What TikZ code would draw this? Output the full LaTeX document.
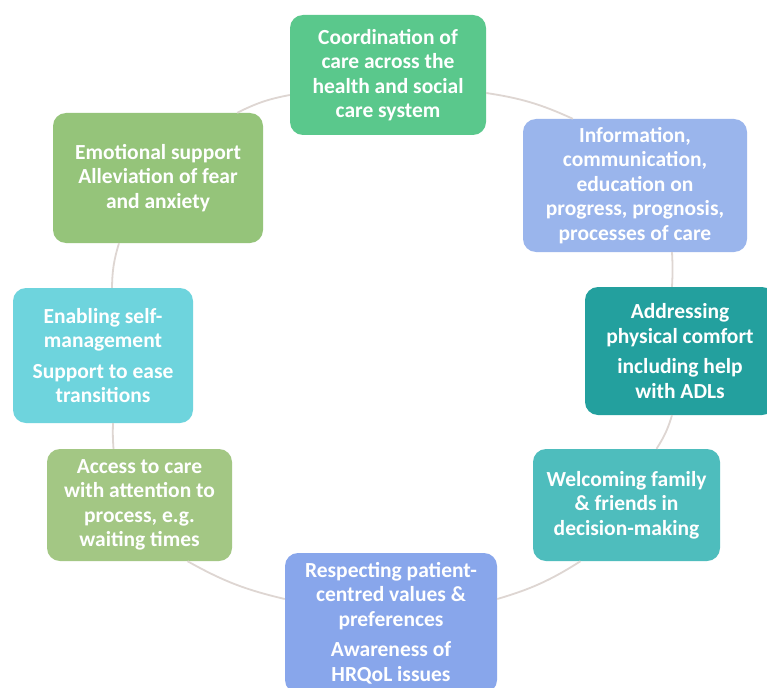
\documentclass[tikz,border=0pt]{standalone}
\usepackage{fontspec}
\setmainfont{Carlito}
\begin{document}
\begin{tikzpicture}[x=1pt,y=-1pt,
  box/.style={rounded corners=13pt, inner sep=0pt, align=center,
    text=white, font=\fontsize{21.5}{24.5}\selectfont\bfseries},
  conn/.style={draw=linecol, line width=1.8pt, bend left=8}]
\definecolor{linecol}{HTML}{DED6D2}
\definecolor{cTop}{HTML}{5AC88C}
\definecolor{cEmo}{HTML}{95C47A}
\definecolor{cInfo}{HTML}{9AB5EC}
\definecolor{cEnab}{HTML}{6ED4DD}
\definecolor{cAddr}{HTML}{23A09E}
\definecolor{cAcc}{HTML}{A3C784}
\definecolor{cWelc}{HTML}{4EBDBD}
\definecolor{cResp}{HTML}{88A6EB}
\useasboundingbox[fill=white] (0,0) rectangle (767,687);
\node[box, fill=cTop, minimum width=196pt, minimum height=120pt] (top) at (388,75)
  {Coordination of\\care across the\\health and social\\care system};
\node[box, fill=cEmo, minimum width=210pt, minimum height=130pt] (emo) at (158,178)
  {Emotional support\\Alleviation of fear\\and anxiety};
\node[box, fill=cInfo, minimum width=224pt, minimum height=133pt] (info) at (635,185.5)
  {Information,\\communication,\\education on\\progress, prognosis,\\processes of care};
\node[box, fill=cEnab, minimum width=180pt, minimum height=135pt] (enab) at (103,355.5)
  {Enabling self-\\management\\[6pt]Support to ease\\transitions};
\node[box, fill=cAddr, minimum width=190pt, minimum height=128pt] (addr) at (680,351)
  {Addressing\\physical comfort\\[6pt]including help\\with ADLs};
\node[box, fill=cAcc, minimum width=185pt, minimum height=112pt] (acc) at (139.5,505)
  {Access to care\\with attention to\\process, e.g.\\waiting times};
\node[box, fill=cWelc, minimum width=187pt, minimum height=112pt] (welc) at (626.5,505)
  {Welcoming family\\\& friends in\\decision-making};
\node[box, fill=cResp, minimum width=212pt, minimum height=140pt] (resp) at (391,623)
  {Respecting patient-\\centred values \&\\preferences\\[6pt]Awareness of\\HRQoL issues};
\path[conn] ([yshift=-18pt]top.east) to ([xshift=50pt]info.north west);
\path[conn, bend left=3] ([xshift=37pt]info.south) to ([xshift=-8pt]addr.north);
\path[conn] ([xshift=-8pt]addr.south) to ([xshift=30pt]welc.north);
\path[conn] ([xshift=-46pt]welc.south) to ([yshift=24pt]resp.east);
\path[conn] ([yshift=24pt]resp.west) to ([xshift=48pt]acc.south);
\path[conn, bend left=3] ([xshift=-26pt]acc.north) to ([xshift=10pt]enab.south);
\path[conn] ([xshift=9pt]enab.north) to ([xshift=-39pt]emo.south);
\path[conn] ([xshift=-26pt]emo.north east) to ([yshift=-20pt]top.west);
\end{tikzpicture}
\end{document}
